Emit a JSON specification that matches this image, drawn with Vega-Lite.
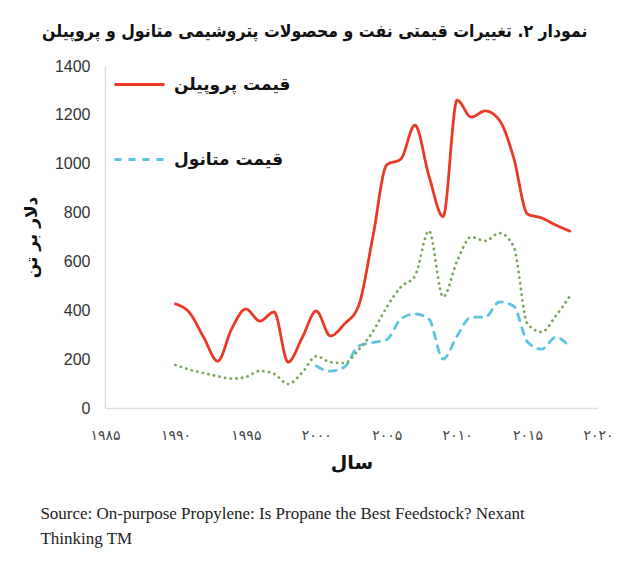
{
  "$schema": "https://vega.github.io/schema/vega-lite/v6.json",
  "background": "white",
  "padding": {"left": 22, "top": 22, "right": 30, "bottom": 10},
  "title": {
    "text": "نمودار ۲. تغییرات قیمتی نفت و محصولات پتروشیمی متانول و پروپیلن",
    "font": "DejaVu Sans Condensed",
    "fontSize": 17.5,
    "fontWeight": "bold",
    "color": "#111111",
    "anchor": "middle",
    "dx": -3,
    "offset": 18
  },
  "vconcat": [
    {
      "width": 493,
      "height": 342,
      "title": {
        "text": ["Source: On-purpose Propylene: Is Propane the Best Feedstock? Nexant", "Thinking TM"],
        "orient": "bottom",
        "anchor": "start",
        "frame": "bounds",
        "font": "Liberation Serif",
        "fontSize": 17,
        "fontWeight": "normal",
        "color": "#222222",
        "lineHeight": 25,
        "dx": 18,
        "offset": 34
      },
      "data": {
        "values": [
          {"year": 1990, "series": "قیمت پروپیلن", "value": 426},
          {"year": 1991, "series": "قیمت پروپیلن", "value": 390},
          {"year": 1992, "series": "قیمت پروپیلن", "value": 290},
          {"year": 1993, "series": "قیمت پروپیلن", "value": 192},
          {"year": 1994, "series": "قیمت پروپیلن", "value": 325},
          {"year": 1995, "series": "قیمت پروپیلن", "value": 405},
          {"year": 1996, "series": "قیمت پروپیلن", "value": 356},
          {"year": 1997, "series": "قیمت پروپیلن", "value": 393},
          {"year": 1998, "series": "قیمت پروپیلن", "value": 188},
          {"year": 1999, "series": "قیمت پروپیلن", "value": 288},
          {"year": 2000, "series": "قیمت پروپیلن", "value": 397},
          {"year": 2001, "series": "قیمت پروپیلن", "value": 295},
          {"year": 2002, "series": "قیمت پروپیلن", "value": 344},
          {"year": 2003, "series": "قیمت پروپیلن", "value": 418},
          {"year": 2004, "series": "قیمت پروپیلن", "value": 695},
          {"year": 2005, "series": "قیمت پروپیلن", "value": 995},
          {"year": 2006, "series": "قیمت پروپیلن", "value": 1019},
          {"year": 2007, "series": "قیمت پروپیلن", "value": 1158},
          {"year": 2008, "series": "قیمت پروپیلن", "value": 950},
          {"year": 2009, "series": "قیمت پروپیلن", "value": 784},
          {"year": 2010, "series": "قیمت پروپیلن", "value": 1260},
          {"year": 2011, "series": "قیمت پروپیلن", "value": 1191},
          {"year": 2012, "series": "قیمت پروپیلن", "value": 1216},
          {"year": 2013, "series": "قیمت پروپیلن", "value": 1178},
          {"year": 2014, "series": "قیمت پروپیلن", "value": 1027},
          {"year": 2015, "series": "قیمت پروپیلن", "value": 794},
          {"year": 2016, "series": "قیمت پروپیلن", "value": 778},
          {"year": 2017, "series": "قیمت پروپیلن", "value": 749},
          {"year": 2018, "series": "قیمت پروپیلن", "value": 724},
          {"year": 2000, "series": "قیمت متانول", "value": 172},
          {"year": 2001, "series": "قیمت متانول", "value": 151},
          {"year": 2002, "series": "قیمت متانول", "value": 168},
          {"year": 2003, "series": "قیمت متانول", "value": 254},
          {"year": 2004, "series": "قیمت متانول", "value": 268},
          {"year": 2005, "series": "قیمت متانول", "value": 280},
          {"year": 2006, "series": "قیمت متانول", "value": 364},
          {"year": 2007, "series": "قیمت متانول", "value": 385},
          {"year": 2008, "series": "قیمت متانول", "value": 364},
          {"year": 2009, "series": "قیمت متانول", "value": 200},
          {"year": 2010, "series": "قیمت متانول", "value": 295},
          {"year": 2011, "series": "قیمت متانول", "value": 372},
          {"year": 2012, "series": "قیمت متانول", "value": 372},
          {"year": 2013, "series": "قیمت متانول", "value": 434},
          {"year": 2014, "series": "قیمت متانول", "value": 418},
          {"year": 2015, "series": "قیمت متانول", "value": 270},
          {"year": 2016, "series": "قیمت متانول", "value": 241},
          {"year": 2017, "series": "قیمت متانول", "value": 290},
          {"year": 2018, "series": "قیمت متانول", "value": 250},
          {"year": 1990, "series": "قیمت نفت", "value": 176},
          {"year": 1991, "series": "قیمت نفت", "value": 157},
          {"year": 1992, "series": "قیمت نفت", "value": 143},
          {"year": 1993, "series": "قیمت نفت", "value": 130},
          {"year": 1994, "series": "قیمت نفت", "value": 120},
          {"year": 1995, "series": "قیمت نفت", "value": 127},
          {"year": 1996, "series": "قیمت نفت", "value": 152},
          {"year": 1997, "series": "قیمت نفت", "value": 140},
          {"year": 1998, "series": "قیمت نفت", "value": 98},
          {"year": 1999, "series": "قیمت نفت", "value": 145},
          {"year": 2000, "series": "قیمت نفت", "value": 212},
          {"year": 2001, "series": "قیمت نفت", "value": 188},
          {"year": 2002, "series": "قیمت نفت", "value": 184},
          {"year": 2003, "series": "قیمت نفت", "value": 238},
          {"year": 2004, "series": "قیمت نفت", "value": 311},
          {"year": 2005, "series": "قیمت نفت", "value": 413},
          {"year": 2006, "series": "قیمت نفت", "value": 495},
          {"year": 2007, "series": "قیمت نفت", "value": 540},
          {"year": 2008, "series": "قیمت نفت", "value": 725},
          {"year": 2009, "series": "قیمت نفت", "value": 455},
          {"year": 2010, "series": "قیمت نفت", "value": 602},
          {"year": 2011, "series": "قیمت نفت", "value": 700},
          {"year": 2012, "series": "قیمت نفت", "value": 684},
          {"year": 2013, "series": "قیمت نفت", "value": 716},
          {"year": 2014, "series": "قیمت نفت", "value": 663},
          {"year": 2015, "series": "قیمت نفت", "value": 344},
          {"year": 2016, "series": "قیمت نفت", "value": 311},
          {"year": 2017, "series": "قیمت نفت", "value": 377},
          {"year": 2018, "series": "قیمت نفت", "value": 458}
        ]
      },
      "mark": {
        "type": "line",
        "interpolate": "monotone",
        "strokeWidth": 2.8,
        "strokeCap": "round",
        "strokeJoin": "round"
      },
      "encoding": {
        "x": {
          "field": "year",
          "type": "quantitative",
          "scale": {"domain": [1985, 2020], "nice": false, "zero": false},
          "axis": {
            "values": [1985, 1990, 1995, 2000, 2005, 2010, 2015, 2020],
            "labelExpr": "datum.value == 1985 ? '۱۹۸۵' : datum.value == 1990 ? '۱۹۹۰' : datum.value == 1995 ? '۱۹۹۵' : datum.value == 2000 ? '۲۰۰۰' : datum.value == 2005 ? '۲۰۰۵' : datum.value == 2010 ? '۲۰۱۰' : datum.value == 2015 ? '۲۰۱۵' : '۲۰۲۰'",
            "grid": false,
            "ticks": false,
            "domainColor": "#d5dfe6",
            "domainWidth": 1.5,
            "labelFont": "DejaVu Sans",
            "labelFontSize": 14,
            "labelColor": "#444444",
            "labelPadding": 20,
            "labelFlush": false,
            "labelOverlap": false,
            "title": "سال",
            "titleFont": "DejaVu Sans",
            "titleFontSize": 19,
            "titleFontWeight": "bold",
            "titleColor": "#111111",
            "titlePadding": 11
          }
        },
        "y": {
          "field": "value",
          "type": "quantitative",
          "scale": {"domain": [0, 1400], "nice": false},
          "axis": {
            "values": [0, 200, 400, 600, 800, 1000, 1200, 1400],
            "format": "d",
            "grid": false,
            "ticks": false,
            "domainColor": "#d5dfe6",
            "domainWidth": 1.5,
            "labelFont": "Liberation Sans",
            "labelFontSize": 16,
            "labelColor": "#333333",
            "labelPadding": 15,
            "labelFlush": false,
            "title": "دلار بر تن",
            "titleFont": "DejaVu Sans",
            "titleFontSize": 17,
            "titleFontWeight": "bold",
            "titleColor": "#111111",
            "titlePadding": 14
          }
        },
        "color": {
          "field": "series",
          "type": "nominal",
          "scale": {
            "domain": ["قیمت پروپیلن", "قیمت متانول", "قیمت نفت"],
            "range": ["#ea3a26", "#5ec3e0", "#78a85a"]
          },
          "legend": {
            "values": ["قیمت پروپیلن", "قیمت متانول"],
            "title": null,
            "orient": "none",
            "legendX": 8,
            "legendY": -8,
            "symbolType": "stroke",
            "symbolSize": 2500,
            "symbolStrokeWidth": 2.8,
            "labelFont": "DejaVu Sans",
            "labelFontSize": 17,
            "labelFontWeight": "bold",
            "labelColor": "#111111",
            "labelOffset": 8,
            "rowPadding": 40,
            "labelLimit": 300
          }
        },
        "strokeDash": {
          "field": "series",
          "type": "nominal",
          "scale": {
            "domain": ["قیمت پروپیلن", "قیمت متانول", "قیمت نفت"],
            "range": [[1, 0], [7, 7], [0.1, 5.6]]
          },
          "legend": {
            "values": ["قیمت پروپیلن", "قیمت متانول"],
            "title": null,
            "orient": "none",
            "legendX": 8,
            "legendY": -8,
            "symbolType": "stroke",
            "symbolSize": 2500,
            "symbolStrokeWidth": 2.8,
            "labelFont": "DejaVu Sans",
            "labelFontSize": 17,
            "labelFontWeight": "bold",
            "labelColor": "#111111",
            "labelOffset": 8,
            "rowPadding": 40,
            "labelLimit": 300
          }
        }
      }
    }
  ],
  "config": {
    "view": {"stroke": null}
  }
}
